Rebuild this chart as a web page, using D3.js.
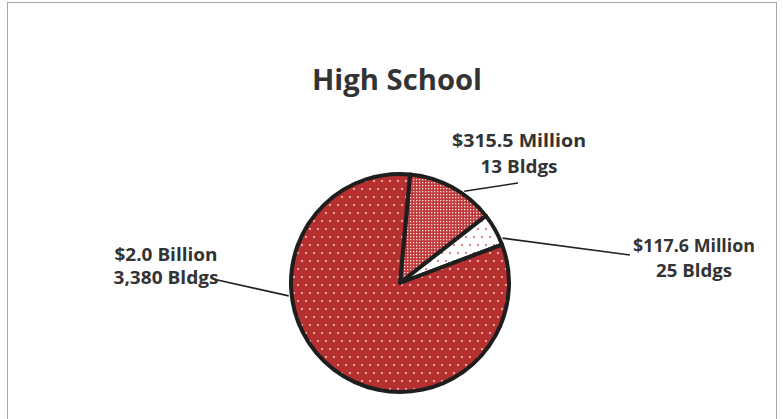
<!DOCTYPE html>
<html>
<head>
<meta charset="utf-8">
<script src="https://cdn.jsdelivr.net/npm/d3@7"></script>
<style>
  html, body { margin: 0; padding: 0; background: #fff; }
  svg { display: block; }
  text { font-family: "Open Sans", "Liberation Sans", sans-serif; font-weight: 700; fill: #333; }
</style>
</head>
<body>
<svg id="chart" width="783" height="419"></svg>
<script>
// ---- data ----
const categories = ["$315.5 Million", "$117.6 Million", "$2.0 Billion"];
const values = [315.5, 117.6, 2000];          // millions of dollars
const buildings = ["13 Bldgs", "25 Bldgs", "3,380 Bldgs"];
const title = "High School";

// ---- layout ----
const cx = 400, cy = 283, R = 109;
const startDeg = 5.3;
const svg = d3.select("#chart");

// frame
svg.append("rect").attr("x", 7.5).attr("y", 2.5).attr("width", 769).attr("height", 420)
  .attr("fill", "#fff").attr("stroke", "#a8a8a8").attr("stroke-width", 1);

// patterns
const defs = svg.append("defs");
const p0 = defs.append("pattern").attr("id", "pDense").attr("patternUnits", "userSpaceOnUse")
  .attr("width", 3).attr("height", 3);
p0.append("rect").attr("width", 3).attr("height", 3).attr("fill", "#c0393a");
p0.append("rect").attr("x", 1).attr("y", 1).attr("width", 1.3).attr("height", 1.3).attr("fill", "#fbe3df");

const p1 = defs.append("pattern").attr("id", "pLight").attr("patternUnits", "userSpaceOnUse")
  .attr("width", 8).attr("height", 16);
p1.append("rect").attr("width", 8).attr("height", 16).attr("fill", "#fff");
p1.append("circle").attr("cx", 2).attr("cy", 2).attr("r", 0.9).attr("fill", "#c8474a");
p1.append("circle").attr("cx", 6).attr("cy", 10).attr("r", 0.9).attr("fill", "#c8474a");

const p2 = defs.append("pattern").attr("id", "pMain").attr("patternUnits", "userSpaceOnUse")
  .attr("width", 8).attr("height", 16);
p2.append("rect").attr("width", 8).attr("height", 16).attr("fill", "#b5302f");
p2.append("circle").attr("cx", 2).attr("cy", 2).attr("r", 1).attr("fill", "#f7d4cc");
p2.append("circle").attr("cx", 6).attr("cy", 10).attr("r", 1).attr("fill", "#f7d4cc");

const fills = ["url(#pDense)", "url(#pLight)", "url(#pMain)"];

// title
svg.append("text").attr("x", 397).attr("y", 90).attr("text-anchor", "middle")
  .attr("font-size", 28).attr("textLength", 170).attr("lengthAdjust", "spacingAndGlyphs")
  .text(title);

// pie
const pie = d3.pie().sort(null)
  .startAngle(startDeg * Math.PI / 180)
  .endAngle((startDeg + 360) * Math.PI / 180);
const arcs = pie(values);
const arc = d3.arc().innerRadius(0).outerRadius(R);
const g = svg.append("g").attr("transform", `translate(${cx},${cy})`);
g.selectAll("path").data(arcs).join("path")
  .attr("d", arc)
  .attr("fill", (d, i) => fills[i])
  .attr("stroke", "#1e1e1e").attr("stroke-width", 4).attr("stroke-linejoin", "round");

// labels (layout only)
const labelLayout = [
  { x: 519, y1: 147, y2: 173, w1: 134, w2: 77, edgeDeg: 35, ex: 518, ey: 183 },
  { x: 694, y1: 252, y2: 277, w1: 122, w2: 76, edgeDeg: 66.4, ex: 630, ey: 255 },
  { x: 166, y1: 261, y2: 284, w1: 103, w2: 105, edgeDeg: 263.4, ex: 213, ey: 279 }
];
const rEdge = R + 3;
labelLayout.forEach((L, i) => {
  const a = L.edgeDeg * Math.PI / 180;
  const sx = cx + rEdge * Math.sin(a), sy = cy - rEdge * Math.cos(a);
  svg.append("line").attr("x1", sx).attr("y1", sy).attr("x2", L.ex).attr("y2", L.ey)
    .attr("stroke", "#222").attr("stroke-width", 1.6);
  svg.append("text").attr("x", L.x).attr("y", L.y1).attr("text-anchor", "middle")
    .attr("font-size", 18).attr("textLength", L.w1).attr("lengthAdjust", "spacingAndGlyphs")
    .text(categories[i]);
  svg.append("text").attr("x", L.x).attr("y", L.y2).attr("text-anchor", "middle")
    .attr("font-size", 18).attr("textLength", L.w2).attr("lengthAdjust", "spacingAndGlyphs")
    .text(buildings[i]);
});
</script>
</body>
</html>
